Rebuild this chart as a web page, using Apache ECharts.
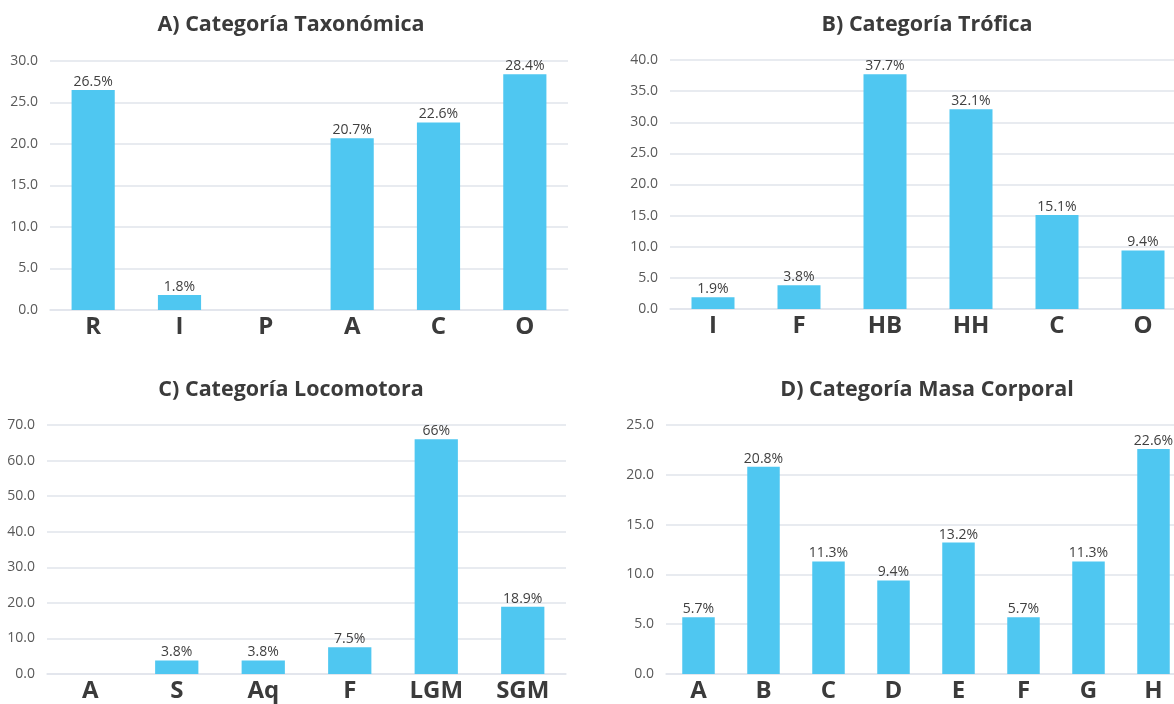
<!DOCTYPE html>
<html>
<head>
<meta charset="utf-8">
<script src="https://cdn.jsdelivr.net/npm/echarts@6/dist/echarts.min.js"></script>
<style>
  html, body { margin: 0; padding: 0; background: #ffffff; }
  #chart { width: 1174px; height: 704px; }
</style>
</head>
<body>
<div id="chart"></div>
<script>
// A) Categoría Taxonómica
const taxCategories = ['R', 'I', 'P', 'A', 'C', 'O'];
const taxValues = [26.5, 1.8, 0, 20.7, 22.6, 28.4];
// B) Categoría Trófica
const trofCategories = ['I', 'F', 'HB', 'HH', 'C', 'O'];
const trofValues = [1.9, 3.8, 37.7, 32.1, 15.1, 9.4];
// C) Categoría Locomotora
const locoCategories = ['A', 'S', 'Aq', 'F', 'LGM', 'SGM'];
const locoValues = [0, 3.8, 3.8, 7.5, 66, 18.9];
// D) Categoría Masa Corporal
const masaCategories = ['A', 'B', 'C', 'D', 'E', 'F', 'G', 'H'];
const masaValues = [5.7, 20.8, 11.3, 9.4, 13.2, 5.7, 11.3, 22.6];

const panelTitles = ['A) Categoría Taxonómica', 'B) Categoría Trófica', 'C) Categoría Locomotora', 'D) Categoría Masa Corporal'];
const axisMax = [30, 40, 70, 25];
const axisStep = [5, 5, 10, 5];

const FONT = '"Open Sans", "DejaVu Sans", sans-serif';
const BAR = '#4FC7F1';
const GRIDLINE = '#E1E5EB';

// the right-hand panels run slightly past the canvas edge
const panels = [
  { cats: taxCategories, vals: taxValues, grid: { left: 50, width: 518, top: 61, height: 249 }, title: [291, 25] },
  { cats: trofCategories, vals: trofValues, grid: { left: 670, width: 516, top: 60, height: 249 }, title: [927, 25] },
  { cats: locoCategories, vals: locoValues, grid: { left: 47, width: 519, top: 425, height: 249 }, title: [291, 390] },
  { cats: masaCategories, vals: masaValues, grid: { left: 666, width: 520, top: 425, height: 249 }, title: [927, 390] }
];

function pct(v) {
  if (!v) return '';
  return (Number.isInteger(v) ? String(v) : v.toFixed(1)) + '%';
}

const option = {
  backgroundColor: '#ffffff',
  animation: false,
  grid: panels.map(p => Object.assign({ containLabel: false, outerBoundsMode: 'none' }, p.grid)),
  xAxis: panels.map((p, i) => ({
    type: 'category',
    gridIndex: i,
    data: p.cats,
    axisTick: { show: false },
    axisLine: { show: true, lineStyle: { color: GRIDLINE, width: 1.5 } },
    axisLabel: { color: '#3B3B3B', fontFamily: FONT, fontWeight: 'bold', fontSize: 24, margin: 5 }
  })),
  yAxis: panels.map((p, i) => ({
    type: 'value',
    gridIndex: i,
    min: 0,
    max: axisMax[i],
    interval: axisStep[i],
    axisLine: { show: false },
    axisTick: { show: false },
    splitLine: { lineStyle: { color: GRIDLINE, width: 1.5 } },
    axisLabel: { color: '#595959', fontFamily: FONT, fontSize: 14, margin: 12, formatter: v => v.toFixed(1) }
  })),
  series: panels.map((p, i) => ({
    type: 'bar',
    xAxisIndex: i,
    yAxisIndex: i,
    data: p.vals,
    barWidth: '50%',
    itemStyle: { color: BAR },
    label: {
      show: true,
      position: 'top',
      distance: 1,
      color: '#404040',
      fontFamily: FONT,
      fontSize: 14,
      formatter: params => pct(params.value)
    }
  })),
  graphic: panels.map((p, i) => ({
    type: 'text',
    x: p.title[0],
    y: p.title[1],
    style: {
      text: panelTitles[i],
      fill: '#3B3B3B',
      font: 'bold 21.5px ' + FONT,
      textAlign: 'center',
      textVerticalAlign: 'middle'
    }
  }))
};

const chart = echarts.init(document.getElementById('chart'), null, { renderer: 'canvas' });
chart.setOption(option);
</script>
</body>
</html>
